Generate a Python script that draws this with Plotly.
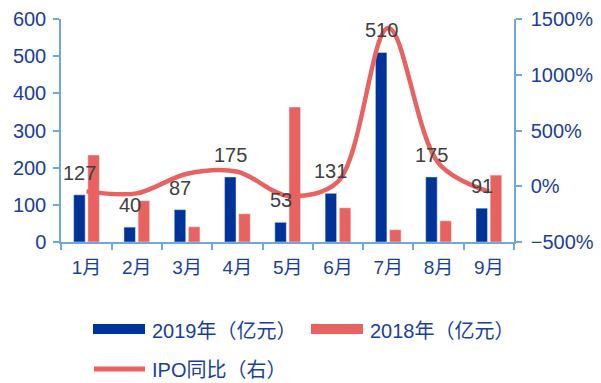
import plotly.graph_objects as go

months = ["1月", "2月", "3月", "4月", "5月", "6月", "7月", "8月", "9月"]
ipo_2019 = [127, 40, 87, 175, 53, 131, 510, 175, 91]
ipo_2018 = [234, 111, 41, 76, 363, 92, 33, 57, 180]
yoy_pct = [-46, -64, 112, 130, -85, 42, 1420, 207, -49]

BLUE = "#00339A"
RED = "#E86262"
TICK = "#1A3E9C"
AXIS = "#6FA8DC"
FONT = "Liberation Sans, Arial, Noto Sans CJK SC"

fig = go.Figure()
fig.add_trace(go.Bar(x=months, y=ipo_2019, name="2019年（亿元）", marker_color=BLUE, yaxis="y"))
fig.add_trace(go.Bar(x=months, y=ipo_2018, name="2018年（亿元）", marker_color=RED, yaxis="y"))
fig.add_trace(go.Scatter(x=months, y=yoy_pct, name="IPO同比（右）", mode="lines",
                         line=dict(color=RED, width=4.5, shape="spline", smoothing=0.95),
                         yaxis="y2"))

annotations = []
for m, v in zip(months, ipo_2019):
    annotations.append(dict(x=m, y=v, xref="x", yref="y", text=str(v), showarrow=False,
                            xshift=-7, yshift=22, yanchor="middle",
                            font=dict(family=FONT, size=20, color="#404040")))

# custom legend
def px_x(p):
    return (p - 61) / 453

def px_y(p):
    return (242 - p) / 223

shapes = [
    dict(type="rect", xref="paper", yref="paper", x0=px_x(93), x1=px_x(145), y0=px_y(334), y1=px_y(324),
         fillcolor=BLUE, line_width=0),
    dict(type="rect", xref="paper", yref="paper", x0=px_x(311), x1=px_x(363), y0=px_y(334), y1=px_y(324),
         fillcolor=RED, line_width=0),
    dict(type="line", xref="paper", yref="paper", x0=px_x(94), x1=px_x(145), y0=px_y(369), y1=px_y(369),
         line=dict(color=RED, width=5)),
]
for txt, x, y in [("2019年（亿元）", 150, 331), ("2018年（亿元）", 368, 331), ("IPO同比（右）", 150, 370)]:
    annotations.append(dict(x=px_x(x), y=px_y(y), xref="paper", yref="paper", text=txt, showarrow=False,
                            xanchor="left", yanchor="middle",
                            font=dict(family=FONT, size=20, color=TICK)))

fig.update_layout(
    width=601, height=383,
    margin=dict(l=61, r=87, t=19, b=141),
    paper_bgcolor="white", plot_bgcolor="white",
    barmode="group", bargap=0.435, bargroupgap=0.19,
    showlegend=False,
    xaxis=dict(type="category", showline=True, linecolor=AXIS, linewidth=1.5,
               ticks="outside", tickson="boundaries", ticklen=6, tickcolor=AXIS, tickwidth=1.5,
               ticklabelstandoff=7, automargin=False,
               tickfont=dict(family=FONT, size=19, color=TICK), showgrid=False, zeroline=False),
    yaxis=dict(range=[0, 600], dtick=100, showline=True, linecolor=AXIS, linewidth=1.5,
               ticks="outside", ticklen=6, tickcolor=AXIS, tickwidth=1.5,
               ticklabelstandoff=3, automargin=False,
               tickfont=dict(family=FONT, size=20, color=TICK), showgrid=False, zeroline=False),
    yaxis2=dict(range=[-500, 1500], dtick=500, ticksuffix="%", overlaying="y", side="right",
                showline=True, linecolor=AXIS, linewidth=1.5,
                ticks="outside", ticklen=6, tickcolor=AXIS, tickwidth=1.5,
                ticklabelstandoff=5, automargin=False,
                tickfont=dict(family=FONT, size=20, color=TICK), showgrid=False, zeroline=False),
    annotations=annotations,
    shapes=shapes,
)

fig.write_html("out.html")
